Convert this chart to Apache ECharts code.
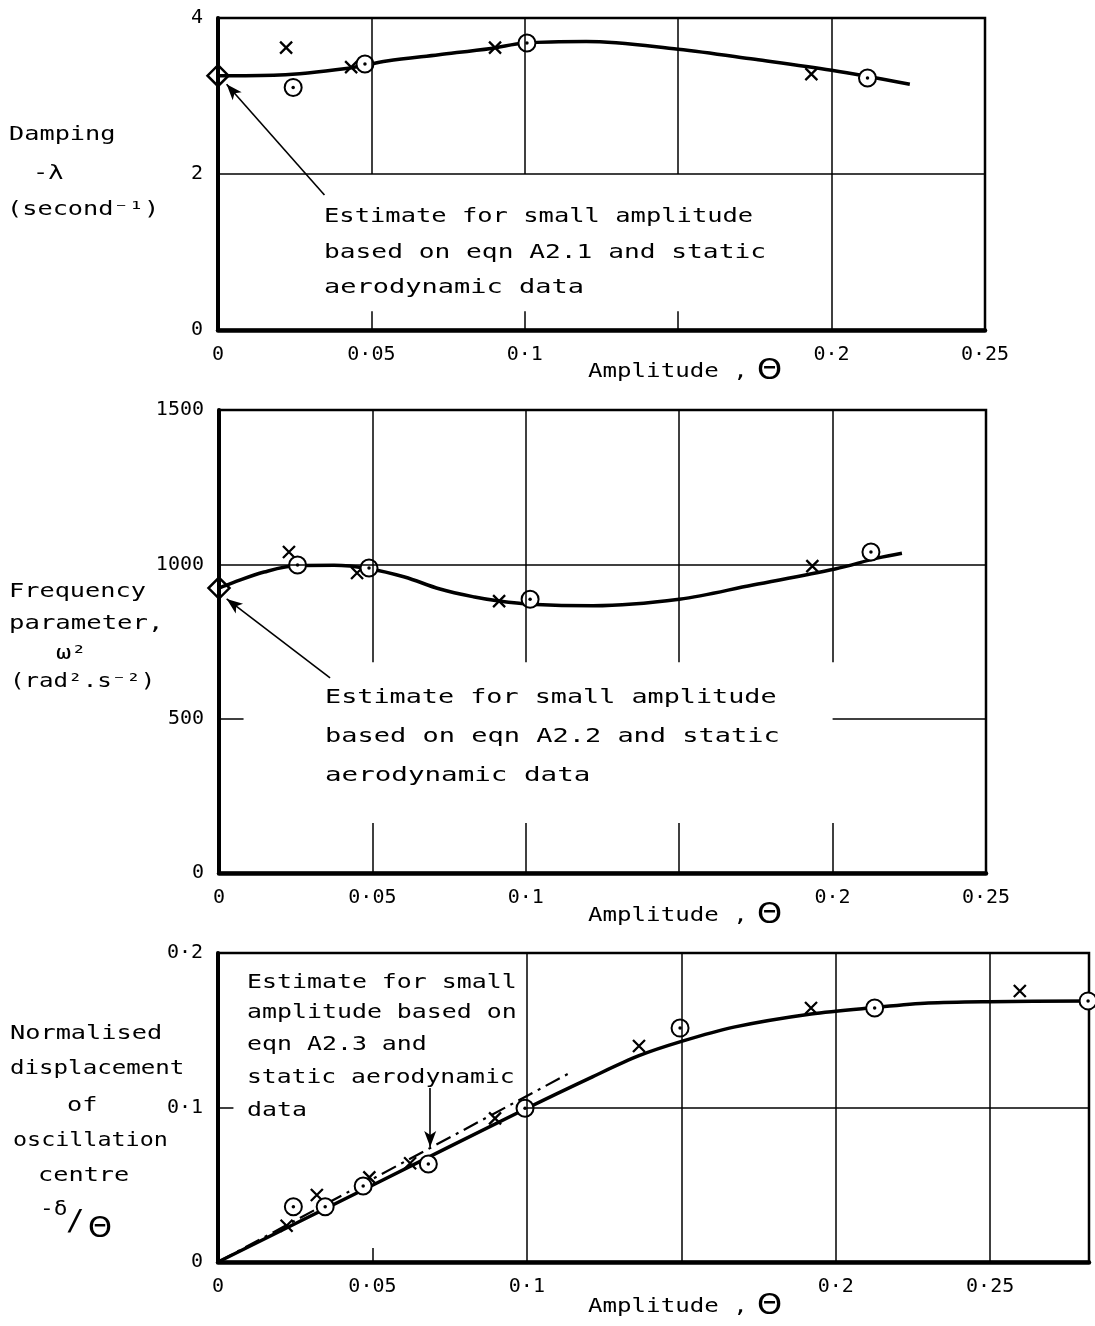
<!DOCTYPE html>
<html>
<head>
<meta charset="utf-8">
<title>Damping, frequency and displacement against amplitude</title>
<script src="https://cdn.jsdelivr.net/npm/echarts@6/dist/echarts.min.js"></script>
<style>
	html,body{margin:0;padding:0;background:#fff;}
	#chart{width:1095px;height:1326px;}
</style>
</head>
<body>
<div id="chart"></div>
<script>
// ---- data ----
// top: damping -lambda (1/s) against amplitude
var dampCurve = [[0,3.26],[0.02,3.27],[0.043,3.36],[0.055,3.45],[0.072,3.53],[0.089,3.61],[0.1,3.68],[0.12,3.70],[0.15,3.60],[0.175,3.47],[0.2,3.33],[0.2255,3.15]];
var dampCross = [[0.0222,3.62],[0.0434,3.37],[0.0903,3.62],[0.1934,3.28]];
var dampCircle = [[0.0245,3.11],[0.0479,3.41],[0.1007,3.68],[0.2117,3.23]];
var dampEstimate = [[0,3.26]];

// middle: frequency parameter omega^2
var freqCurve = [[0,923],[0.0044,940],[0.0147,975],[0.0256,996],[0.0375,997],[0.0489,986],[0.0605,959],[0.072,920],[0.0833,894],[0.0913,881],[0.1014,871],[0.122,866],[0.15,887],[0.174,933],[0.2008,985],[0.2145,1020],[0.2226,1036]];
var freqCross = [[0.0228,1040],[0.045,972],[0.0913,881],[0.1934,994]];
var freqCircle = [[0.0256,998],[0.0489,988],[0.1014,887],[0.2125,1040]];
var freqEstimate = [[0,923]];

// bottom: normalised displacement of oscillation centre
var dispCurve = [[0,0],[0.05,0.0497],[0.1,0.0995],[0.1214,0.12],[0.1363,0.1335],[0.1498,0.1426],[0.167,0.152],[0.192,0.1605],[0.2126,0.1647],[0.23,0.1676],[0.25,0.1685],[0.282,0.169]];
var dispEstimate = [[0,0],[0.114,0.1225]];
var dispCross = [[0.0222,0.0235],[0.032,0.0434],[0.049,0.0548],[0.0622,0.0639],[0.0897,0.093],[0.1363,0.1398],[0.192,0.1644],[0.2596,0.1754]];
var dispCircle = [[0.0244,0.0358],[0.0347,0.0358],[0.047,0.0492],[0.0681,0.0634],[0.0994,0.0995],[0.1496,0.1514],[0.2126,0.1644],[0.2817,0.169]];

var xTicks = [0, 0.05, 0.1, 0.2, 0.25]; // 0.15 has no label in the figure

var MONO = 'DejaVu Sans Mono';
var chart = echarts.init(document.getElementById('chart'));

function dotted(v){
	return String(+v.toFixed(2)).replace('.', '·');
}
function xFmt(v){
	for (var i = 0; i < xTicks.length; i++) {
		if (Math.abs(v - xTicks[i]) < 1e-6) return dotted(xTicks[i]);
	}
	return '';
}

function seg(x1, y1, x2, y2){
	return [{coord:[x1,y1]}, {coord:[x2,y2]}];
}

function xAxisOf(idx, max){
	return {
		gridIndex: idx, type: 'value', min: 0, max: max, interval: 0.05,
		splitLine: {show: false}, axisTick: {show: false},
		axisLine: {onZero: false, lineStyle: {color: '#000', width: 4.5}},
		axisLabel: {color: '#000', fontFamily: MONO, fontSize: 20, margin: 15, showMaxLabel: max === 0.25, formatter: xFmt}
	};
}
function yAxisOf(idx, max, step, fmt){
	return {
		gridIndex: idx, type: 'value', min: 0, max: max, interval: step,
		splitLine: {show: false}, axisTick: {show: false},
		axisLine: {onZero: false, lineStyle: {color: '#000', width: 4}},
		axisLabel: {color: '#000', fontFamily: MONO, fontSize: 20, margin: 15, formatter: fmt}
	};
}

// grid lines are drawn as segments because the figure breaks them round the notes
function gridLines(idx, segs){
	return {
		type: 'line', xAxisIndex: idx, yAxisIndex: idx, data: [], z: 1,
		markLine: {
			silent: true, animation: false, symbol: ['none','none'],
			label: {show: false},
			lineStyle: {color: '#000', width: 1.5, type: 'solid'},
			data: segs
		}
	};
}
function arrow(idx, from, to){
	return {
		type: 'line', xAxisIndex: idx, yAxisIndex: idx, data: [], z: 4,
		markLine: {
			silent: true, animation: false, symbol: ['none','arrow'], symbolSize: [9,16],
			label: {show: false},
			lineStyle: {color: '#000', width: 1.6, type: 'solid'},
			data: [[{coord: from}, {coord: to}]]
		}
	};
}
function curve(idx, data, extra){
	var s = {
		type: 'line', xAxisIndex: idx, yAxisIndex: idx, data: data, z: 2,
		smooth: 0.35, symbol: 'none', clip: false,
		lineStyle: {color: '#000', width: 3.5}
	};
	for (var k in extra) s[k] = extra[k];
	return s;
}
function crosses(idx, data){
	return {
		type: 'scatter', xAxisIndex: idx, yAxisIndex: idx, data: data, z: 3, clip: false,
		symbol: 'path://M0,0L10,10M10,0L0,10', symbolSize: 12,
		itemStyle: {color: 'rgba(0,0,0,0)', borderColor: '#000', borderWidth: 2.3, opacity: 1}
	};
}
function circles(idx, data){
	return [{
		type: 'scatter', xAxisIndex: idx, yAxisIndex: idx, data: data, z: 3, clip: false,
		symbol: 'circle', symbolSize: 17,
		itemStyle: {color: '#fff', borderColor: '#000', borderWidth: 2, opacity: 1}
	}, {
		type: 'scatter', xAxisIndex: idx, yAxisIndex: idx, data: data, z: 3, clip: false,
		symbol: 'circle', symbolSize: 3.5,
		itemStyle: {color: '#000', opacity: 1}
	}];
}
function diamond(idx, data){
	return {
		type: 'scatter', xAxisIndex: idx, yAxisIndex: idx, data: data, z: 3, clip: false,
		symbol: 'diamond', symbolSize: [21,21],
		itemStyle: {color: 'rgba(0,0,0,0)', borderColor: '#000', borderWidth: 2.5, opacity: 1}
	};
}

// plain text notes, stretched sideways like the stencil lettering
function txt(s, x, base, size, sx, fam){
	size = size || 19;
	return {
		type: 'text', x: x, y: base - Math.round(size * 0.32), scaleX: sx || 1.33, z: 10,
		style: {text: s, fontFamily: fam || MONO, fontSize: size, fill: '#000',
			textAlign: 'left', verticalAlign: 'middle', textVerticalAlign: 'middle'}
	};
}
function ampTitle(base){
	return [txt('Amplitude ,', 588, base, 19, 1.27), txt('Θ', 757, base + 2, 29, 1.1, 'DejaVu Sans')];
}

var grids = [
	{left: 218, top: 18, width: 767, height: 312},
	{left: 219, top: 410, width: 767, height: 463},
	{left: 218, top: 953, width: 871, height: 309}
];
grids.forEach(function(g){ g.show = true; g.borderColor = '#000'; g.borderWidth = 2.5; g.backgroundColor = 'transparent'; });

var series = [];
// top panel
series.push(gridLines(0, [
	seg(0.05,2,0.05,4), seg(0.1,2,0.1,4), seg(0.15,2,0.15,4), seg(0.2,0,0.2,4),
	seg(0.05,0,0.05,0.24), seg(0.1,0,0.1,0.24), seg(0.15,0,0.15,0.24),
	seg(0,2,0.25,2)
]));
series.push(curve(0, dampCurve));
series.push(crosses(0, dampCross));
series = series.concat(circles(0, dampCircle));
series.push(diamond(0, dampEstimate));
series.push(arrow(0, [0.0347,1.73], [0.0028,3.15]));

// middle panel
var midSegs = [seg(0,1000,0.25,1000), seg(0,500,0.008,500), seg(0.2,500,0.25,500)];
[0.05,0.1,0.15,0.2].forEach(function(x){
	midSegs.push(seg(x,683,x,1500));
	midSegs.push(seg(x,0,x,162));
});
series.push(gridLines(1, midSegs));
series.push(curve(1, freqCurve));
series.push(crosses(1, freqCross));
series = series.concat(circles(1, freqCircle));
series.push(diamond(1, freqEstimate));
series.push(arrow(1, [0.0362,632], [0.0025,888]));

// bottom panel
series.push(gridLines(2, [
	seg(0.05,0,0.05,0.009), seg(0.1,0,0.1,0.2), seg(0.15,0,0.15,0.2), seg(0.2,0,0.2,0.2), seg(0.25,0,0.25,0.2),
	seg(0,0.1,0.005,0.1), seg(0.1,0.1,0.282,0.1)
]));
series.push(curve(2, dispCurve, {smooth: 0.3}));
series.push(curve(2, dispEstimate, {smooth: false, lineStyle: {color: '#000', width: 2.2, type: [16,6,3,6]}}));
series.push(crosses(2, dispCross));
series = series.concat(circles(2, dispCircle));
series.push(arrow(2, [0.0687,0.1126], [0.0687,0.0745]));

var graphics = [
	// top panel labels
	txt('Damping', 9, 141), txt('-λ', 33, 180), txt('(second⁻¹)', 7, 216),
	txt('Estimate for small amplitude', 324, 223, 19, 1.34),
	txt('based on eqn A2.1 and static', 324, 259, 19, 1.38),
	txt('aerodynamic data', 324, 294, 19, 1.42),
	// middle panel labels
	txt('Frequency', 9, 598), txt('parameter,', 9, 630, 19, 1.35), txt('ω²', 56, 660), txt('(rad².s⁻²)', 10, 688, 19, 1.27),
	txt('Estimate for small amplitude', 325, 704, 19, 1.41),
	txt('based on eqn A2.2 and static', 325, 743, 19, 1.42),
	txt('aerodynamic data', 325, 782, 19, 1.45),
	// bottom panel labels
	txt('Normalised', 10, 1040), txt('displacement', 10, 1075, 19, 1.27), txt('of', 67, 1112),
	txt('oscillation', 13, 1147, 19, 1.23), txt('centre', 38, 1182),
	txt('-δ', 40, 1216, 19, 1.2), txt('/', 66, 1232, 28, 1.1), txt('Θ', 88, 1238, 29, 1.05, 'DejaVu Sans'),
	txt('Estimate for small', 247, 989, 19, 1.31),
	txt('amplitude based on', 247, 1019, 19, 1.31),
	txt('eqn A2.3 and', 247, 1051, 19, 1.31),
	txt('static aerodynamic', 247, 1084, 19, 1.3),
	txt('data', 247, 1117, 19, 1.31)
].concat(ampTitle(378), ampTitle(922), ampTitle(1313));

chart.setOption({
	animation: false,
	backgroundColor: '#fff',
	grid: grids,
	xAxis: [xAxisOf(0, 0.25), xAxisOf(1, 0.25), xAxisOf(2, 0.282)],
	yAxis: [
		yAxisOf(0, 4, 2, function(v){ return String(v); }),
		yAxisOf(1, 1500, 500, function(v){ return String(v); }),
		yAxisOf(2, 0.2, 0.1, function(v){ return v === 0 ? '0' : dotted(v); })
	],
	series: series,
	graphic: graphics
});
</script>
</body>
</html>
